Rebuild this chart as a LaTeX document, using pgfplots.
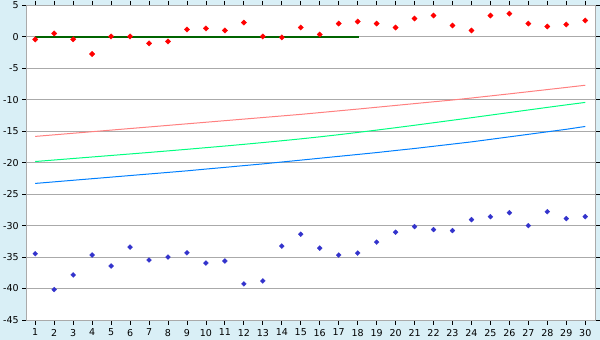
\documentclass[border=0pt]{standalone}
\usepackage{pgfplots}
\pgfplotsset{compat=1.18}
\usepackage{fontspec}
\setmainfont{DejaVu Sans}
\definecolor{bgc}{HTML}{D9EFF6}
\definecolor{gridc}{HTML}{AAAAAA}
\definecolor{redline}{HTML}{FF8080}
\definecolor{greenline}{HTML}{00FF80}
\definecolor{blueline}{HTML}{0080FF}
\definecolor{bluept}{HTML}{3333CC}
\definecolor{darkg}{HTML}{006400}
\pgfplotstableread{
x red green blue
1 -15.83 -19.82 -23.30
2 -15.58 -19.58 -23.05
3 -15.33 -19.34 -22.80
4 -15.08 -19.10 -22.55
5 -14.83 -18.86 -22.30
6 -14.58 -18.62 -22.05
7 -14.33 -18.38 -21.80
8 -14.08 -18.13 -21.55
9 -13.83 -17.88 -21.30
10 -13.58 -17.62 -21.02
11 -13.33 -17.36 -20.75
12 -13.08 -17.09 -20.47
13 -12.83 -16.81 -20.20
14 -12.58 -16.52 -19.90
15 -12.33 -16.22 -19.60
16 -12.05 -15.90 -19.30
17 -11.77 -15.56 -19.00
18 -11.49 -15.20 -18.70
19 -11.20 -14.83 -18.40
20 -10.91 -14.45 -18.07
21 -10.62 -14.06 -17.75
22 -10.33 -13.66 -17.40
23 -10.05 -13.26 -17.05
24 -9.73 -12.86 -16.70
25 -9.40 -12.45 -16.30
26 -9.07 -12.04 -15.90
27 -8.73 -11.63 -15.50
28 -8.39 -11.22 -15.10
29 -8.05 -10.82 -14.70
30 -7.70 -10.43 -14.25
}\lines
\pgfplotstableread{
x top bot
1 -0.42 -34.47
2 0.53 -40.16
3 -0.40 -37.84
4 -2.74 -34.68
5 0.05 -36.42
6 0.05 -33.42
7 -1.05 -35.47
8 -0.74 -35.00
9 1.16 -34.32
10 1.32 -35.95
11 1.00 -35.63
12 2.26 -39.26
13 0.05 -38.79
14 -0.10 -33.26
15 1.47 -31.37
16 0.37 -33.58
17 2.10 -34.68
18 2.42 -34.37
19 2.10 -32.63
20 1.47 -31.05
21 2.90 -30.16
22 3.37 -30.63
23 1.79 -30.79
24 1.00 -29.05
25 3.37 -28.58
26 3.68 -27.95
27 2.10 -30.00
28 1.63 -27.79
29 1.95 -28.89
30 2.58 -28.58
}\pts
\begin{document}
\begin{tikzpicture}
\fill[bgc] (-26.7bp,-20bp) rectangle (573.3bp,320bp);
\begin{axis}[
  at={(0,0)}, anchor=south west,
  scale only axis, width=568.6bp, height=314.7bp,
  xmin=0.55, xmax=30.53, ymin=-45, ymax=5,
  xtick={1,...,30}, ytick={-45,-40,...,5},
  axis background/.style={fill=white},
  axis line style={gridc, line width=1bp},
  ymajorgrids, grid style={gridc, line width=0.9bp},
  tick style={black, line width=0.8bp},
  tick align=outside,
  major tick length=4.5bp,
  every tick label/.append style={font=\fontsize{9.5bp}{10bp}\selectfont, black},
  /pgf/number format/assume math mode=true,
  xticklabel style={yshift=-1bp},
  clip=false,
]
\addplot[redline, line width=1bp] table[x=x, y=red] {\lines};
\addplot[greenline, line width=1bp] table[x=x, y=green] {\lines};
\addplot[blueline, line width=1bp] table[x=x, y=blue] {\lines};
\addplot[darkg, line width=2.4bp] coordinates {(1,0) (18.06,0)};
\addplot[only marks, mark=square*, mark size=1.9bp, mark options={rotate=45, fill=red, draw=red, line width=0.3bp}] table[x=x, y=top] {\pts};
\addplot[only marks, mark=square*, mark size=1.75bp, mark options={rotate=45, fill=bluept, draw=bluept, line width=0.3bp}] table[x=x, y=bot] {\pts};
\end{axis}
\pgfresetboundingbox
\path (-26.7bp,-20bp) rectangle (573.3bp,320bp);
\end{tikzpicture}
\end{document}
